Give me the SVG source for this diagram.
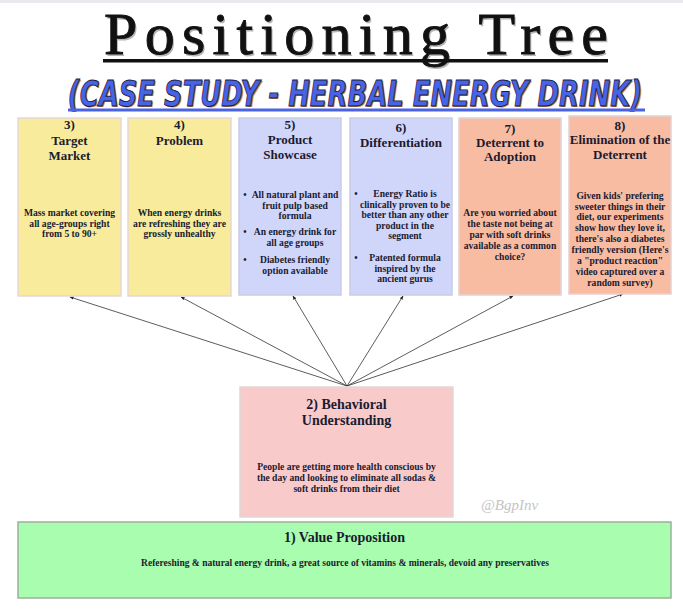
<svg xmlns="http://www.w3.org/2000/svg" width="683" height="609" viewBox="0 0 683 609">
<style>
.t{font-family:"Liberation Serif","Times New Roman",serif;font-weight:bold;fill:#1b1b30;text-anchor:middle}
.h{font-size:13px}
.b{font-size:9.6px}
.box{stroke-width:1.5}
.y{fill:#f8ec9c;stroke:#e6d6d6}
.l{fill:#d0d5fa;stroke:#c9cbe6}
.s{fill:#f8bca2;stroke:#e4d0d4}
.p{fill:#f9caca;stroke:#e2d6d6}
.g{fill:#a8fdae;stroke:#9cb09c}
.c{stroke:#333;stroke-width:0.8;fill:none;marker-end:url(#ah)}
.sub{font-family:"DejaVu Sans Condensed","DejaVu Sans",sans-serif;font-stretch:condensed;font-weight:bold;font-style:italic;font-size:36px;text-anchor:middle}
</style>
<defs>
<marker id="ah" viewBox="0 0 10 10" refX="9" refY="5" markerWidth="5" markerHeight="5" orient="auto">
<path d="M0,1 L10,5 L0,9 z" fill="#222"/>
</marker>
</defs>
<rect x="0" y="0" width="683" height="609" fill="#fff"/>
<rect x="0" y="0" width="683" height="3" fill="#e8eaed"/>
<g id="title">
<text x="356" y="54" font-family="Liberation Serif, serif" font-size="60" fill="#888" opacity="0.6" text-anchor="middle" textLength="504" lengthAdjust="spacing" transform="translate(1.5,1.5)">Positioning Tree</text>
<text x="356" y="54" font-family="Liberation Serif, serif" font-size="60" fill="#111" stroke="#111" stroke-width="0.9" text-anchor="middle" textLength="504" lengthAdjust="spacing">Positioning Tree</text>
<rect x="103" y="59" width="505" height="3.5" fill="#111"/>
</g>
<g id="subtitle" transform="translate(355,106) scale(0.80,1)">
<text class="sub" x="1.6" y="0.8" fill="#d98a30">(CASE STUDY - HERBAL ENERGY DRINK)</text>
<text class="sub" x="0" y="0" fill="#4763e6" stroke="#1a1a40" stroke-width="0.9">(CASE STUDY - HERBAL ENERGY DRINK)</text>
</g>
<rect x="68" y="108.5" width="577" height="3" fill="#4a63e0"/>
<g id="connectors">
<line class="c" x1="347" y1="386" x2="70" y2="297"/>
<line class="c" x1="347" y1="386" x2="181" y2="297"/>
<line class="c" x1="347" y1="386" x2="293" y2="296"/>
<line class="c" x1="347" y1="386" x2="403" y2="296"/>
<line class="c" x1="347" y1="386" x2="513" y2="296"/>
<line class="c" x1="347" y1="386" x2="623" y2="294"/>
</g>
<g id="n3">
<rect class="box y" x="18" y="118" width="103" height="178"/>
<text class="t h" x="69.5" y="129">3)</text>
<text class="t h" x="69.5" y="145">Target</text>
<text class="t h" x="69.5" y="160">Market</text>
<text class="t b" x="69.5" y="216">Mass market covering</text>
<text class="t b" x="69.5" y="226.5">all age-groups right</text>
<text class="t b" x="69.5" y="237">from 5 to 90+</text>
</g>
<g id="n4">
<rect class="box y" x="128" y="118" width="103" height="178"/>
<text class="t h" x="179.5" y="129">4)</text>
<text class="t h" x="179.5" y="145">Problem</text>
<text class="t b" x="179.5" y="216">When energy drinks</text>
<text class="t b" x="179.5" y="226.5">are refreshing they are</text>
<text class="t b" x="179.5" y="237">grossly unhealthy</text>
</g>
<g id="n5">
<rect class="box l" x="239" y="118" width="102" height="177"/>
<text class="t h" x="290" y="129">5)</text>
<text class="t h" x="290" y="144">Product</text>
<text class="t h" x="290" y="159">Showcase</text>
<text class="t b" x="245" y="198">•</text>
<text class="t b" x="295" y="198">All natural plant and</text>
<text class="t b" x="295" y="208.5">fruit pulp based</text>
<text class="t b" x="295" y="219">formula</text>
<text class="t b" x="245" y="235">•</text>
<text class="t b" x="295" y="235">An energy drink for</text>
<text class="t b" x="295" y="245.5">all age groups</text>
<text class="t b" x="245" y="263">•</text>
<text class="t b" x="295" y="263">Diabetes friendly</text>
<text class="t b" x="295" y="273.5">option available</text>
</g>
<g id="n6">
<rect class="box l" x="350" y="118" width="102" height="177"/>
<text class="t h" x="401" y="132">6)</text>
<text class="t h" x="401" y="147">Differentiation</text>
<text class="t b" x="356" y="197">•</text>
<text class="t b" x="405" y="197">Energy Ratio is</text>
<text class="t b" x="405" y="207.5">clinically proven to be</text>
<text class="t b" x="405" y="218">better than any other</text>
<text class="t b" x="405" y="228.5">product in the</text>
<text class="t b" x="405" y="239">segment</text>
<text class="t b" x="356" y="261">•</text>
<text class="t b" x="405" y="261">Patented formula</text>
<text class="t b" x="405" y="271.5">inspired by the</text>
<text class="t b" x="405" y="282">ancient gurus</text>
</g>
<g id="n7">
<rect class="box s" x="459" y="118" width="102" height="177"/>
<text class="t h" x="510" y="133">7)</text>
<text class="t h" x="510" y="147">Deterrent to</text>
<text class="t h" x="510" y="161">Adoption</text>
<text class="t b" x="510" y="215.5">Are you worried about</text>
<text class="t b" x="510" y="227">the taste not being at</text>
<text class="t b" x="510" y="238">par with soft drinks</text>
<text class="t b" x="510" y="249">available as a common</text>
<text class="t b" x="510" y="260">choice?</text>
</g>
<g id="n8">
<rect class="box s" x="569" y="116" width="102" height="178"/>
<text class="t h" x="620" y="130">8)</text>
<text class="t h" x="620" y="144">Elimination of the</text>
<text class="t h" x="620" y="159">Deterrent</text>
<text class="t b" x="620" y="198.5">Given kids' prefering</text>
<text class="t b" x="620" y="209.5">sweeter things in their</text>
<text class="t b" x="620" y="220.3">diet, our experiments</text>
<text class="t b" x="620" y="231.3">show how they love it,</text>
<text class="t b" x="620" y="242.3">there's also a diabetes</text>
<text class="t b" x="620" y="253.3">friendly version (Here's</text>
<text class="t b" x="620" y="264.3">a "product reaction"</text>
<text class="t b" x="620" y="275.3">video captured over a</text>
<text class="t b" x="620" y="286.3">random survey)</text>
</g>
<g id="n2">
<rect class="box p" x="240" y="387" width="213" height="130"/>
<text class="t" x="346.5" y="409" font-size="14">2) Behavioral</text>
<text class="t" x="346.5" y="424.5" font-size="14">Understanding</text>
<text class="t b" x="346.5" y="470">People are getting more health conscious by</text>
<text class="t b" x="346.5" y="481">the day and looking to eliminate all sodas &amp;</text>
<text class="t b" x="346.5" y="492">soft drinks from their diet</text>
</g>
<g id="watermark">
<text x="481" y="510" font-family="Liberation Serif, serif" font-style="italic" font-size="15" fill="#c4c4c4">@BgpInv</text>
</g>
<g id="n1">
<rect class="box g" x="18" y="522" width="653" height="76"/>
<text class="t" x="344.5" y="541.5" font-size="14">1) Value  Proposition</text>
<text class="t" x="345" y="565.5" font-size="9.5">Refereshing &amp; natural energy drink, a great source of vitamins &amp; minerals, devoid any preservatives</text>
</g>
</svg>
